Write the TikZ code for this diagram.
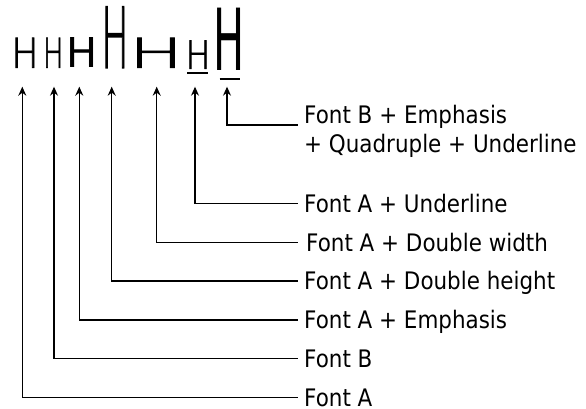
\documentclass[tikz,border=0pt]{standalone}
\usepackage{fontspec}
\setmainfont{DejaVu Sans}[FakeStretch=0.89]
% a light face for the plain printed samples, regular face for the emphasised ones
\IfFontExistsTF{DejaVu Sans ExtraLight}
  {\newfontfamily\hairH{DejaVu Sans ExtraLight}[FakeBold=2]}
  {\IfFontExistsTF{Fira Sans ExtraLight}
    {\newfontfamily\hairH{Fira Sans ExtraLight}[FakeBold=2]}
    {\IfFontExistsTF{Lato Light}
      {\newfontfamily\hairH{Lato Light}}
      {\newfontfamily\hairH{DejaVu Sans}}}}
\newfontfamily\heavyH{DejaVu Sans}
\usetikzlibrary{arrows.meta,calc}

\begin{document}
\begin{tikzpicture}[x=1pt,y=-1pt,
  conn/.style={line width=1.2pt,{Stealth[length=9pt,width=8pt,inset=3pt]}-},
  glyph/.style={inner sep=0pt,anchor=south},
  lbl/.style={anchor=base west,inner xsep=6pt,inner ysep=0pt,
    text height=17.6pt,text depth=0pt,
    font=\fontsize{24.1}{28.4}\selectfont},
  uline/.style={line width=2pt}]
\useasboundingbox (0,0) rectangle (586,409);

% printed sample characters (box widths include side bearings)
\node[glyph] (hA) at (25,68)    {\resizebox{27.2pt}{30pt}{\hairH H}};
\node[glyph] (hB) at (53.3,68)  {\resizebox{20.6pt}{30pt}{\hairH H}};
\node[glyph] (hE) at (82.5,68)  {\resizebox{31.1pt}{30pt}{\heavyH H}};
\node[glyph] (hDH) at (115,68)  {\resizebox{27.2pt}{61pt}{\hairH H}};
\node[glyph] (hDW) at (156,68)  {\resizebox{54pt}{30pt}{\hairH H}};
\node[glyph] (hU) at (198,69)   {\resizebox{24.8pt}{28.3pt}{\hairH H}};
\node[glyph] (hQ) at (229.3,70.7) {\resizebox{31.1pt}{62.4pt}{\heavyH H}};

% underlines
\coordinate (uUa) at (187,73.3);
\coordinate (uUb) at (208,73.3);
\draw[uline] (uUa) -- (uUb);
\coordinate (uQa) at (219.5,79);
\coordinate (uQb) at (240,79);
\draw[uline] (uQa) -- (uQb);

% labels (baseline = line height + half the cap height)
\node[lbl] (lA)  at (298,406.2) {Font A};
\node[lbl] (lB)  at (298,367.5) {Font B};
\node[lbl] (lE)  at (298,328.8) {Font A + Emphasis};
\node[lbl] (lDH) at (298,289.8) {Font A + Double height};
\node[lbl,inner xsep=8pt] (lDW) at (298,251.1) {Font A + Double width};
\node[lbl] (lU)  at (298,212.1) {Font A + Underline};
\node[lbl,align=left,text height=,text depth=] (lQ) at (298,152)
  {Font B + Emphasis\\+ Quadruple + Underline};

% arrow tips under each sample
\coordinate (tA)  at (22.3,86.7);
\coordinate (tB)  at (54,86.7);
\coordinate (tE)  at (79.3,86.7);
\coordinate (tDH) at (111.7,86.7);
\coordinate (tDW) at (156.7,86.7);
\coordinate (tU)  at (195,86.7);
\coordinate (tQ)  at (227,86.7);

% connectors
\draw[conn] (tA)  |- (lA.west);
\draw[conn] (tB)  |- (lB.west);
\draw[conn] (tE)  |- (lE.west);
\draw[conn] (tDH) |- (lDH.west);
\draw[conn] (tDW) |- (lDW.west);
\draw[conn] (tU)  |- (lU.west);
\draw[conn] (tQ)  |- ($(lQ.base west)+(0,-27)$);
\end{tikzpicture}
\end{document}
